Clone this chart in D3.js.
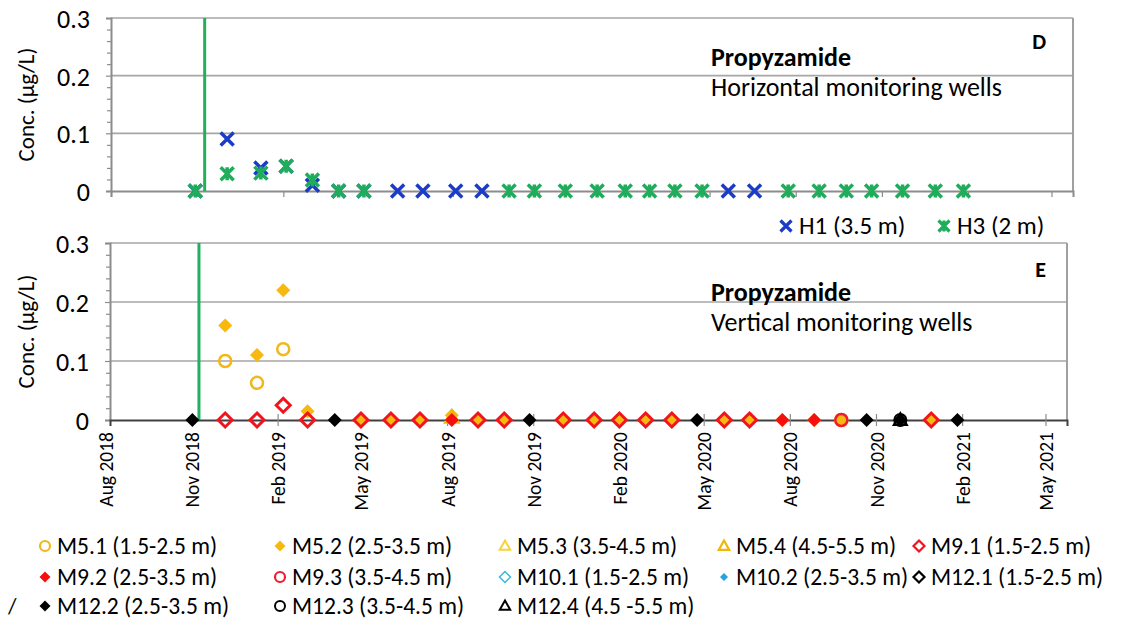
<!DOCTYPE html>
<html>
<head>
<meta charset="utf-8">
<script src="https://cdn.jsdelivr.net/npm/d3@7"></script>
<style>
  body { margin: 0; background: #fff; }
  svg text { font-family: Carlito, Lato, sans-serif; fill: #000; }
</style>
</head>
<body>
<svg id="chart"></svg>
<script>
// ====== Données ====== //

const yTicks = [0, 0.1, 0.2, 0.3];
const yMinorTicks = [0.02, 0.04, 0.06, 0.08, 0.12, 0.14, 0.16, 0.18, 0.22, 0.24, 0.26, 0.28];
const monthTicks = ["2018-08-01", "2018-11-01", "2019-02-01", "2019-05-01", "2019-08-01", "2019-11-01",
  "2020-02-01", "2020-05-01", "2020-08-01", "2020-11-01", "2021-02-01", "2021-05-01"];
const applicationDate = "2018-11-09";

// Panneau D : puits horizontaux
const topDates = ["2018-10-30", "2018-12-03", "2019-01-08", "2019-02-04", "2019-03-04", "2019-04-01",
  "2019-04-28", "2019-06-03", "2019-06-30", "2019-08-04", "2019-09-01", "2019-09-30", "2019-10-27",
  "2019-11-29", "2020-01-02", "2020-02-01", "2020-02-27", "2020-03-25", "2020-04-23", "2020-05-21",
  "2020-06-18", "2020-07-24", "2020-08-26", "2020-09-24", "2020-10-21", "2020-11-23", "2020-12-28",
  "2021-01-27"];
const h1 = [0, 0.09, 0.04, 0.043, 0.01, 0, 0, 0, 0, 0, 0, null, null, null, null, null, null, null, null, 0,
  0, null, null, null, null, null, null, null];
const h3 = [0, 0.03, 0.031, 0.043, 0.019, 0, 0, null, null, null, null, 0, 0, 0, 0, 0, 0, 0, 0, null,
  null, 0, 0, 0, 0, 0, 0, 0];

// Panneau E : puits verticaux
const bottomDates = ["2018-11-02", "2018-12-07", "2019-01-10", "2019-02-07", "2019-03-05", "2019-04-03",
  "2019-05-01", "2019-06-02", "2019-07-03", "2019-08-06", "2019-09-03", "2019-10-01", "2019-10-28",
  "2019-12-03", "2020-01-05", "2020-02-01", "2020-02-29", "2020-03-28", "2020-04-24", "2020-05-23",
  "2020-06-19", "2020-07-24", "2020-08-27", "2020-09-25", "2020-10-22", "2020-11-27", "2020-12-30",
  "2021-01-27"];
const _ = null;
const m51  = [_, 0.1, 0.063, 0.12, _, _, _, _, _, _, _, _, _, _, _, _, _, _, _, _, _, _, _, 0, _, _, _, _];
const m52  = [_, 0.16, 0.11, 0.22, 0.015, _, 0, 0, 0, 0.008, 0, 0, _, 0, 0, 0, 0, 0, _, 0, 0, 0, 0, 0, _, _, 0, _];
const m53  = [_, _, _, _, _, _, _, _, _, _, _, _, _, _, _, _, _, _, _, _, _, _, _, _, _, _, _, _];
const m54  = [_, _, _, _, _, _, _, _, _, 0.004, _, _, _, _, _, _, _, _, _, _, _, _, _, _, _, _, _, _];
const m91  = [_, 0, 0, 0.025, 0, _, 0, 0, 0, _, 0, 0, _, 0, 0, 0, 0, 0, _, 0, 0, _, _, _, _, _, 0, _];
const m92  = [_, _, _, _, _, _, _, _, _, 0, _, _, _, _, _, _, _, _, _, _, _, 0, 0, _, _, _, _, _];
const m93  = [_, _, _, _, _, _, _, _, _, _, _, _, _, _, _, _, _, _, _, _, _, _, _, 0, _, _, _, _];
const m101 = [_, _, _, _, _, _, _, _, _, _, _, _, _, _, _, _, _, _, _, _, _, _, _, _, _, _, _, _];
const m102 = [_, _, _, _, _, _, _, _, _, _, _, _, _, _, _, _, _, _, _, _, _, _, _, _, _, _, _, _];
const m121 = [_, _, _, _, _, _, _, _, _, _, _, _, _, _, _, _, _, _, _, _, _, _, _, _, _, _, _, _];
const m122 = [0, _, _, _, _, 0, _, _, _, _, _, _, 0, _, _, _, _, _, 0, _, _, _, _, _, 0, 0, _, 0];
const m123 = [_, _, _, _, _, _, _, _, _, _, _, _, _, _, _, _, _, _, _, _, _, _, _, _, _, 0, _, _];
const m124 = [_, _, _, _, _, _, _, _, _, _, _, _, _, _, _, _, _, _, _, _, _, _, _, _, _, 0, _, _];

const bottomNames = ["M5.1 (1.5-2.5 m)", "M5.2 (2.5-3.5 m)", "M5.3 (3.5-4.5 m)", "M5.4 (4.5-5.5 m)",
  "M9.1 (1.5-2.5 m)", "M9.2 (2.5-3.5 m)", "M9.3 (3.5-4.5 m)", "M10.1 (1.5-2.5 m)", "M10.2 (2.5-3.5 m)",
  "M12.1 (1.5-2.5 m)", "M12.2 (2.5-3.5 m)", "M12.3 (3.5-4.5 m)", "M12.4 (4.5 -5.5 m)"];
const bottomValues = [m51, m52, m53, m54, m91, m92, m93, m101, m102, m121, m122, m123, m124];

// ====== Styles ====== //
const parseDate = d3.timeParse("%Y-%m-%d");
const bottomStyles = [
  { shape: "circle",   stroke: "#F2B718", fill: "none",    sw: 2.5 },
  { shape: "diamond",  stroke: "none",    fill: "#F7B90F", sw: 0 },
  { shape: "triangle", stroke: "#F5D33A", fill: "none",    sw: 2 },
  { shape: "triangle", stroke: "#EDB80A", fill: "none",    sw: 2.5 },
  { shape: "diamond",  stroke: "#F0141E", fill: "none",    sw: 3 },
  { shape: "diamond",  stroke: "none",    fill: "#F51010", sw: 0 },
  { shape: "circle",   stroke: "#EE1C2E", fill: "none",    sw: 2.5 },
  { shape: "diamond",  stroke: "#3DB7D9", fill: "none",    sw: 1.5 },
  { shape: "diamond",  stroke: "none",    fill: "#24A4DC", sw: 0, small: true },
  { shape: "diamond",  stroke: "#000",    fill: "none",    sw: 2.5 },
  { shape: "diamond",  stroke: "none",    fill: "#000",    sw: 0 },
  { shape: "circle",   stroke: "#000",    fill: "none",    sw: 2 },
  { shape: "triangle", stroke: "#000",    fill: "none",    sw: 2 }
];
const blue = "#1B3CC6", green = "#1FAD5B";

function markerPath(shape, r) {
  if (shape === "diamond") return `M0,${-r}L${r},0L0,${r}L${-r},0Z`;
  if (shape === "triangle") return `M0,${-r}L${r * 0.95},${r * 0.7}L${-r * 0.95},${r * 0.7}Z`;
  if (shape === "cross") return `M${-r},${-r}L${r},${r}M${-r},${r}L${r},${-r}`;
  if (shape === "star") return `M${-r},${-r}L${r},${r}M${-r},${r}L${r},${-r}M0,${-r}L0,${r}`;
  return d3.arc()({ innerRadius: 0, outerRadius: r, startAngle: 0, endAngle: 2 * Math.PI });
}

const svg = d3.select("#chart").attr("width", 1148).attr("height", 619);

// ====== Fonction de dessin d'un panneau ====== //
function drawPanel(p) {
  const x = d3.scaleTime().domain(p.domain.map(parseDate)).range([p.left, p.right]);
  const y = d3.scaleLinear().domain([0, 0.3]).range([p.bottom, p.top]);
  const g = svg.append("g");

  // grille
  g.selectAll(".grid").data([0.1, 0.2, 0.3]).enter().append("line")
    .attr("x1", p.left).attr("x2", p.right)
    .attr("y1", d => y(d)).attr("y2", d => y(d))
    .attr("stroke", "#A6A6A6").attr("stroke-width", 1.6);
  g.append("line").attr("x1", p.right).attr("x2", p.right).attr("y1", p.top).attr("y2", p.bottom)
    .attr("stroke", "#A0A0A0").attr("stroke-width", 2);

  // axe Y
  const yMinor = g.append("g").attr("transform", `translate(${p.left},0)`)
    .call(d3.axisLeft(y).tickValues(yMinorTicks).tickSize(4).tickFormat(""));
  yMinor.select(".domain").remove();
  yMinor.selectAll("line").attr("stroke", "#8C8C8C").attr("stroke-width", 1.2);
  const yAxis = g.append("g").attr("transform", `translate(${p.left},0)`)
    .call(d3.axisLeft(y).tickValues(yTicks).tickSize(5).tickPadding(16).tickFormat(d => d === 0 ? "0" : d3.format(".1f")(d)));
  yAxis.select(".domain").attr("stroke", "#8C8C8C").attr("stroke-width", 2);
  yAxis.selectAll("line").attr("stroke", "#8C8C8C").attr("stroke-width", 1.2);
  yAxis.selectAll("text").style("font-size", "26px").attr("dy", "0.36em");

  g.append("text")
    .attr("transform", `translate(34,${(p.top + p.bottom) / 2}) rotate(-90)`)
    .attr("text-anchor", "middle")
    .style("font-size", "23px")
    .text("Conc. (µg/L)");

  // axe X
  const xAxis = g.append("g").attr("transform", `translate(0,${p.bottom})`)
    .call(d3.axisBottom(x).tickValues(monthTicks.map(parseDate)).tickSize(6)
      .tickFormat(p.labels ? d3.timeFormat("%b %Y") : ""));
  xAxis.select(".domain").attr("stroke", p.axisColor).attr("stroke-width", 2);
  xAxis.selectAll(".tick line").attr("stroke", "#8C8C8C").attr("stroke-width", 1.2)
    .attr("y1", p.crossTicks ? -6 : 0);
  xAxis.selectAll(".tick").filter(d => x(d) < p.left - 1).select("line").remove();
  if (p.labels) {
    xAxis.selectAll(".tick text")
      .attr("transform", "rotate(-90)")
      .attr("x", -12).attr("y", 0).attr("dy", "0.36em")
      .attr("text-anchor", "end")
      .style("font-size", "19.5px");
  }

  // ligne verticale d'application
  g.append("line")
    .attr("x1", x(parseDate(applicationDate))).attr("x2", x(parseDate(applicationDate)))
    .attr("y1", p.top).attr("y2", p.bottom)
    .attr("stroke", "#21B05C").attr("stroke-width", 3);

  // textes
  g.append("text").attr("x", 711).attr("y", p.top + p.titleDy).style("font-size", "26px")
    .style("font-weight", "bold").text("Propyzamide");
  g.append("text").attr("x", 711).attr("y", p.top + p.titleDy + 30).style("font-size", "26px").text(p.subtitle);
  g.append("text").attr("x", 1046).attr("y", p.top + p.letterDy).attr("text-anchor", "end")
    .style("font-size", "22px").style("font-weight", "bold").text(p.letter);

  return { x, y, g };
}

// ====== Panneau D ====== //
const top_ = drawPanel({
  left: 111, right: 1073, top: 18, bottom: 191, domain: ["2018-08-01", "2021-05-24"],
  labels: false, crossTicks: false, axisColor: "#8C8C8C",
  subtitle: "Horizontal monitoring wells", letter: "D", titleDy: 48, letterDy: 31
});

[[h1, "cross", blue], [h3, "star", green]].forEach(([vals, shape, col]) => {
  top_.g.append("g").selectAll("path")
    .data(topDates.map((d, i) => ({ date: parseDate(d), v: vals[i] })).filter(d => d.v !== null))
    .enter().append("path")
    .attr("transform", d => `translate(${top_.x(d.date)},${top_.y(d.v)})`)
    .attr("d", markerPath(shape, 6.5))
    .attr("fill", "none").attr("stroke", col).attr("stroke-width", 3.5);
});

// légende D
const legTop = svg.append("g");
[["H1 (3.5 m)", "cross", blue, 786, 799], ["H3 (2 m)", "star", green, 944, 957]].forEach(([name, shape, col, mx, tx]) => {
  legTop.append("path").attr("transform", `translate(${mx},226)`).attr("d", markerPath(shape, 5.5))
    .attr("fill", "none").attr("stroke", col).attr("stroke-width", 3.2);
  legTop.append("text").attr("x", tx).attr("y", 234).style("font-size", "25px").text(name);
});

// ====== Panneau E ====== //
const bot = drawPanel({
  left: 110, right: 1067, top: 243, bottom: 420, domain: ["2018-08-06", "2021-05-24"],
  labels: true, crossTicks: true, axisColor: "#404040",
  subtitle: "Vertical monitoring wells", letter: "E", titleDy: 58, letterDy: 34
});

bottomValues.forEach((vals, k) => {
  const s = bottomStyles[k];
  bot.g.append("g").selectAll("path")
    .data(bottomDates.map((d, i) => ({ date: parseDate(d), v: vals[i] })).filter(d => d.v !== null))
    .enter().append("path")
    .attr("transform", d => `translate(${bot.x(d.date)},${bot.y(d.v)})`)
    .attr("d", markerPath(s.shape, s.shape === "circle" ? 6 : (s.small ? 5 : 7)))
    .attr("fill", s.fill).attr("stroke", s.stroke).attr("stroke-width", s.sw);
});

// légende E
const legCols = [45, 280, 505, 724, 919];
const legRows = [546, 577, 606];
const legBot = svg.append("g");
bottomNames.forEach((name, k) => {
  const s = bottomStyles[k];
  const cx = legCols[k % 5], cy = legRows[Math.floor(k / 5)];
  legBot.append("path").attr("transform", `translate(${cx},${cy})`)
    .attr("d", markerPath(s.shape, s.shape === "circle" ? 5 : (s.small ? 4 : 5.5)))
    .attr("fill", s.fill).attr("stroke", s.stroke).attr("stroke-width", Math.min(s.sw, 2.2));
  legBot.append("text").attr("x", cx + 12).attr("y", cy + 8).style("font-size", "23.5px").text(name);
});
legBot.append("text").attr("x", 8).attr("y", 614).style("font-size", "22px").text("/");
</script>
</body>
</html>
